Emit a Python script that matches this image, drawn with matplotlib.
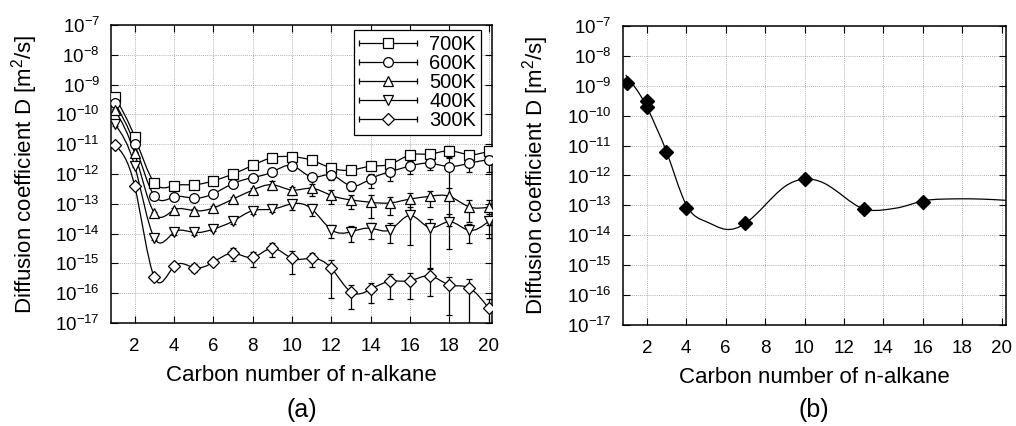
import numpy as np
import matplotlib
matplotlib.use("Agg")
import matplotlib.pyplot as plt
from matplotlib.path import Path
from matplotlib.patches import PathPatch
from matplotlib.lines import Line2D
from matplotlib.legend_handler import HandlerBase

plt.rcParams["font.family"] = ["Liberation Sans", "DejaVu Sans"]
plt.rcParams["mathtext.fontset"] = "custom"
plt.rcParams["mathtext.rm"] = "Liberation Sans"
plt.rcParams["mathtext.it"] = "Liberation Sans:italic"
plt.rcParams["mathtext.bf"] = "Liberation Sans:bold"

# ---- panel (a): D vs carbon number, log10 values ----
carbon = list(range(1, 21))
temps = ["700K", "600K", "500K", "400K", "300K"]
markers = ["s", "o", "^", "v", "D"]

logD_700K = [-9.41, -10.75, -12.29, -12.39, -12.36, -12.23, -12.00, -11.71, -11.45, -11.42,
             -11.54, -11.80, -11.87, -11.74, -11.67, -11.36, -11.33, -11.22, -11.35, -11.23]
logD_600K = [-9.63, -11.00, -12.73, -12.77, -12.81, -12.66, -12.32, -12.12, -11.93, -11.72,
             -12.10, -12.03, -12.40, -12.16, -11.92, -11.73, -11.64, -11.75, -11.64, -11.52]
logD_500K = [-9.85, -11.30, -13.31, -13.21, -13.23, -13.14, -12.84, -12.54, -12.36, -12.54,
             -12.48, -12.72, -12.87, -12.95, -12.97, -12.84, -12.75, -12.75, -13.10, -13.11]
logD_400K = [-10.33, -11.72, -14.15, -13.96, -13.96, -13.85, -13.58, -13.23, -13.18, -13.00,
             -13.17, -13.87, -13.94, -13.82, -13.87, -13.39, -13.80, -13.60, -13.89, -13.59]
logD_300K = [-11.02, -12.40, -15.47, -15.10, -15.14, -14.96, -14.66, -14.80, -14.49, -14.83,
             -14.83, -15.16, -15.96, -15.87, -15.60, -15.58, -15.42, -15.72, -15.82, -16.51]

# relative standard error (sigma / D)
rel_700K = [0.10, 0.10, 0.10, 0.10, 0.10, 0.10, 0.10, 0.10, 0.10, 0.10,
            0.12, 0.15, 0.25, 0.15, 0.30, 0.20, 0.30, 0.40, 0.30, 0.32]
rel_600K = [0.10, 0.10, 0.10, 0.10, 0.10, 0.10, 0.12, 0.12, 0.15, 0.30,
            0.20, 0.32, 0.35, 0.50, 0.50, 0.45, 0.40, 0.90, 0.50, 0.60]
rel_500K = [0.10, 0.10, 0.12, 0.15, 0.15, 0.15, 0.15, 0.20, 0.30, 0.30,
            0.43, 0.48, 0.50, 0.70, 0.62, 0.65, 0.55, 0.90, 0.70, 0.75]
rel_400K = [0.10, 0.10, 0.15, 0.15, 0.15, 0.15, 0.20, 0.20, 0.20, 0.38,
            0.43, 0.46, 0.55, 0.55, 0.65, 0.90, 0.96, 0.88, 0.62, 0.72]
rel_300K = [0.10, 0.10, 0.15, 0.15, 0.30, 0.15, 0.47, 0.53, 0.50, 0.70,
            0.48, 0.90, 0.74, 0.65, 0.75, 0.75, 0.78, 0.90, 0.95, 1.00]

series_logD = [logD_700K, logD_600K, logD_500K, logD_400K, logD_300K]
series_rel = [rel_700K, rel_600K, rel_500K, rel_400K, rel_300K]

# ---- panel (b): simulation points and fitted curve ----
md_carbon = [1, 2, 2, 3, 4, 7, 10, 13, 16]
md_logD = [-8.92, -9.50, -9.72, -11.20, -13.10, -13.60, -12.12, -13.12, -12.89]
fit_carbon = [0.93, 1.5, 2, 2.5, 3, 3.5, 4, 5, 6, 7, 8, 9, 10, 11, 12, 13, 14, 15, 16, 17, 18, 19, 20.2]
fit_logD = [-8.64, -9.14, -9.70, -10.42, -11.20, -12.15, -12.98, -13.54, -13.80, -13.60, -12.99, -12.37,
            -12.12, -12.26, -12.71, -13.12, -13.15, -13.04, -12.85, -12.79, -12.78, -12.79, -12.83]

exponents = list(range(-17, -6))
xticks = list(range(2, 21, 2))


def spline_path(x, ly):
    """natural cubic spline in (x, log D) drawn as bezier segments"""
    x = np.asarray(x, float)
    ly = np.asarray(ly, float)
    n = len(x)
    h = np.diff(x)
    A = np.zeros((n, n))
    b = np.zeros(n)
    A[0, 0] = A[-1, -1] = 1
    for i in range(1, n - 1):
        A[i, i - 1] = h[i - 1]
        A[i, i] = 2 * (h[i - 1] + h[i])
        A[i, i + 1] = h[i]
        b[i] = 6 * ((ly[i + 1] - ly[i]) / h[i] - (ly[i] - ly[i - 1]) / h[i - 1])
    M = np.linalg.solve(A, b)
    verts = [(x[0], ly[0])]
    codes = [Path.MOVETO]
    for i in range(n - 1):
        s = (ly[i + 1] - ly[i]) / h[i]
        m0 = s - h[i] * (2 * M[i] + M[i + 1]) / 6
        m1 = s + h[i] * (M[i] + 2 * M[i + 1]) / 6
        verts += [(x[i] + h[i] / 3, ly[i] + m0 * h[i] / 3),
                  (x[i + 1] - h[i] / 3, ly[i + 1] - m1 * h[i] / 3),
                  (x[i + 1], ly[i + 1])]
        codes += [Path.CURVE4] * 3
    v = np.array(verts)
    v[:, 1] = 10 ** v[:, 1]
    return Path(v, codes)


class KeyHandler(HandlerBase):
    """gnuplot style key: line with end ticks and the marker in the middle"""
    def create_artists(self, legend, orig, xd, yd, width, height, fontsize, trans):
        x0, y0 = -xd, -yd + height / 2
        line = Line2D([x0, x0 + width], [y0, y0], color="black", lw=0.9)
        caps = Line2D([x0, x0 + width], [y0, y0], ls="none", marker="|", ms=5,
                      mew=0.9, color="black")
        mk = Line2D([x0 + width / 2], [y0], ls="none", marker=orig.get_marker(),
                    ms=orig.get_markersize(), mfc="white", mec="black", mew=0.9)
        for a in (line, caps, mk):
            a.set_transform(trans)
        return [line, caps, mk]


def style_axes(ax, xlim):
    ax.set_yscale("log")
    ax.set_ylim(10.0 ** exponents[0], 10.0 ** exponents[-1])
    ax.set_xlim(*xlim)
    ax.set_yticks([10.0 ** e for e in exponents])
    ax.set_yticklabels([f"10$^{{{e}}}$" for e in exponents])
    ax.yaxis.set_minor_locator(matplotlib.ticker.NullLocator())
    ax.set_xticks(xticks)
    ax.tick_params(direction="in", length=5, width=0.8, top=True, right=True,
                   labelsize=13.5)
    ax.tick_params(axis="x", pad=11)
    ax.tick_params(axis="y", pad=8)
    ax.grid(True, color="#999999", ls=(0, (1, 1.5)), lw=0.6)
    for sp in ax.spines.values():
        sp.set_linewidth(1.1)
    ax.set_xlabel("Carbon number of n-alkane", fontsize=16, labelpad=7)
    ax.set_ylabel("Diffusion coefficient D [m$^2$/s]", fontsize=16, labelpad=11)


fig = plt.figure(figsize=(10.16, 4.26), dpi=100)
ax1 = fig.add_axes([0.1093, 0.2418, 0.375, 0.6995])
ax2 = fig.add_axes([0.6129, 0.2371, 0.377, 0.7019])

# (a)
handles = []
for temp, mk, lds, rel in zip(temps, markers, series_logD, series_rel):
    D = 10 ** np.array(lds)
    ax1.add_patch(PathPatch(spline_path(carbon, lds), fill=False, lw=0.9,
                            edgecolor="black", zorder=2))
    ms = 6.5 if mk in ("s", "D") else 7
    ax1.errorbar(carbon, D, yerr=np.array(rel) * D, fmt=mk, ls="none", ms=ms,
                 mfc="white", mec="black", mew=0.9, ecolor="black", elinewidth=0.9,
                 capsize=2.5, capthick=0.9, zorder=3)
    handles.append(Line2D([], [], marker=mk, ms=ms, color="black", label=temp))
style_axes(ax1, (0.8, 20.17))
leg = ax1.legend(handles=handles, handler_map={Line2D: KeyHandler()}, loc="upper right",
                 bbox_to_anchor=(0.971, 0.983), borderaxespad=0, fontsize=14.5,
                 labelspacing=0.0, handlelength=2.9, handletextpad=0.6, borderpad=0.25,
                 fancybox=False, framealpha=1, edgecolor="black")
leg.get_frame().set_linewidth(0.9)
leg.set_zorder(5)

# (b)
ax2.add_patch(PathPatch(spline_path(fit_carbon, fit_logD), fill=False, lw=0.9,
                        edgecolor="black", zorder=2))
ax2.plot(md_carbon, 10 ** np.array(md_logD), ls="none", marker="D", ms=7.5,
         color="black", zorder=3)
style_axes(ax2, (0.78, 20.2))

fig.text(0.2968, 0.037, "(a)", fontsize=18, ha="center", va="center")
fig.text(0.801, 0.037, "(b)", fontsize=18, ha="center", va="center")

fig.savefig("out.png", dpi=100)
